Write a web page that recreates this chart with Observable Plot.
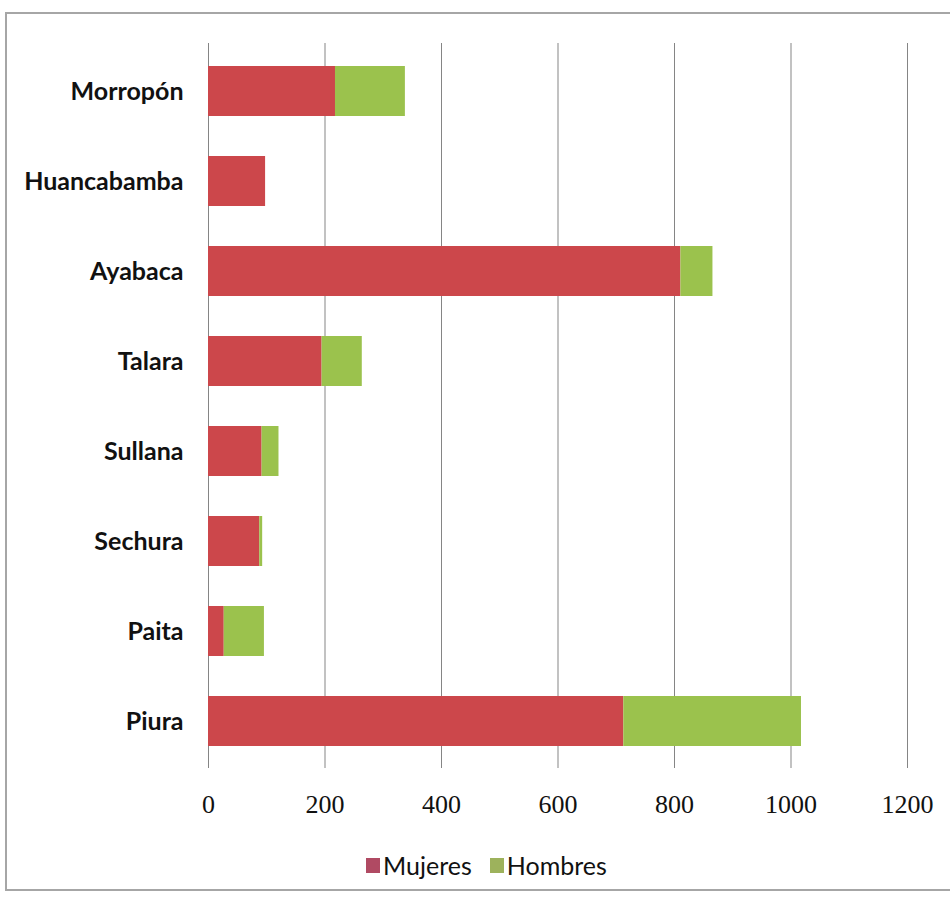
<!DOCTYPE html>
<html>
<head>
<meta charset="utf-8">
<script src="https://cdn.jsdelivr.net/npm/d3@7"></script>
<script src="https://cdn.jsdelivr.net/npm/@observablehq/plot@0.6"></script>
<style>
  html, body { margin: 0; padding: 0; background: #fff; overflow: hidden; width: 950px; height: 899px; }
  #frame { position: absolute; left: 5px; top: 12px; width: 985px; height: 875px; border: 2px solid #a6a6a6; background: #fff; }
  #chart { position: absolute; left: 0; top: 0; }
  #legend { position: absolute; left: 359px; top: 836px; display: flex; align-items: center; font-family: Lato, "Open Sans", sans-serif; font-size: 25px; color: #111; }
  .item { display: flex; align-items: center; margin-right: 18px; }
  .sw { width: 14px; height: 15px; margin-right: 3px; }
</style>
</head>
<body>
<div id="frame">
  <div id="chart"></div>
  <div id="legend"></div>
</div>
<script>
const categories = ["Morropón", "Huancabamba", "Ayabaca", "Talara", "Sullana", "Sechura", "Paita", "Piura"];
const mujeres = [218, 98, 811, 195, 92, 88, 27, 713];
const hombres = [120, 0, 55, 69, 29, 5, 69, 305];
const series = ["Mujeres", "Hombres"];
const barColors = ["#cc474b", "#9bc24d"];
const legendColors = ["#b04a63", "#9db25c"];
const xTicks = [0, 200, 400, 600, 800, 1000, 1200];

const data = categories.flatMap((c, i) => [
  {cat: c, serie: series[0], value: mujeres[i]},
  {cat: c, serie: series[1], value: hombres[i]}
]);

const chart = Plot.plot({
  width: 945,
  height: 810,
  marginLeft: 201,
  marginRight: 45,
  marginTop: 29,
  marginBottom: 56,
  x: {domain: [0, 1200], ticks: xTicks, label: null},
  y: {domain: categories, paddingInner: 0.448, paddingOuter: 0.224, label: null},
  color: {domain: series, range: barColors},
  style: {background: "transparent", color: "#111"},
  marks: [
    Plot.ruleX(xTicks, {stroke: "#858585", strokeWidth: 1}),
    Plot.barX(data, Plot.stackX({x: "value", y: "cat", fill: "serie"})),
    Plot.axisX({ticks: xTicks, tickSize: 0, tickPadding: 26, tickFormat: d => String(d), fontSize: 26, fontFamily: "Liberation Serif", label: null}),
    Plot.axisY({tickSize: 0, tickPadding: 25, fontSize: 25, fontWeight: "bold", fontFamily: "Lato", label: null})
  ]
});
document.getElementById("chart").appendChild(chart);

const legend = document.getElementById("legend");
series.forEach((s, i) => {
  const item = document.createElement("div");
  item.className = "item";
  const sw = document.createElement("span");
  sw.className = "sw";
  sw.style.background = legendColors[i];
  const t = document.createElement("span");
  t.textContent = s;
  item.appendChild(sw);
  item.appendChild(t);
  legend.appendChild(item);
});
</script>
</body>
</html>
